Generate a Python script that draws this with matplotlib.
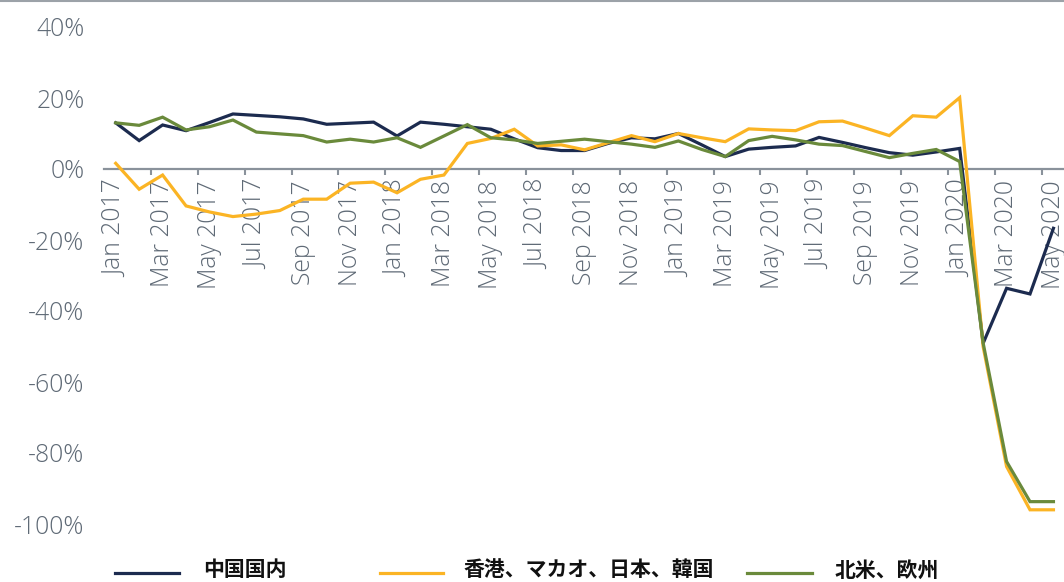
import matplotlib
matplotlib.use("Agg")
import matplotlib.pyplot as plt
from matplotlib.lines import Line2D
import numpy as np

months = ["Jan", "Feb", "Mar", "Apr", "May", "Jun", "Jul", "Aug", "Sep", "Oct", "Nov", "Dec"]
categories = [f"{months[m]} {y}" for y in (2017, 2018, 2019, 2020) for m in range(12)][:41]

china = [13.0, 8.0, 12.4, 10.8, 13.1, 15.5, 15.1, 14.7, 14.1, 12.6, 12.9, 13.2, 9.3, 13.2,
         12.6, 11.9, 11.2, 8.5, 6.0, 5.2, 5.2, 7.2, 8.8, 8.5, 10.0, 6.8, 3.5, 5.6, 6.1, 6.5,
         8.9, 7.5, 6.0, 4.6, 3.9, 4.8, 5.8, -49.1, -33.6, -35.2, -16.7]
hk_jp_kr = [1.6, -5.7, -1.7, -10.4, -12.1, -13.4, -12.7, -11.7, -8.5, -8.5, -4.0, -3.7, -6.7,
            -2.9, -1.7, 7.2, 8.6, 11.2, 6.5, 6.8, 5.4, 7.4, 9.4, 7.7, 10.0, 8.8, 7.7, 11.3,
            11.0, 10.8, 13.3, 13.5, 11.5, 9.4, 15.0, 14.6, 20.1, -50.0, -83.8, -96.0, -96.0]
na_eu = [13.0, 12.3, 14.6, 11.0, 11.9, 13.8, 10.4, 9.9, 9.4, 7.6, 8.4, 7.6, 8.8, 6.1, 9.3,
         12.5, 8.8, 8.2, 7.2, 7.8, 8.4, 7.7, 7.0, 6.1, 7.9, 5.5, 3.5, 8.0, 9.2, 8.2, 7.0, 6.6,
         4.9, 3.2, 4.4, 5.5, 2.1, -49.0, -82.4, -93.7, -93.7]

series_names = ["中国国内", "香港、マカオ、日本、韓国", "北米、欧州"]
colors = ["#1c2b4f", "#fbb424", "#6a8a3b"]
y_ticks = [-100, -80, -60, -40, -20, 0, 20, 40]

W, H = 1064, 582
fig = plt.figure(figsize=(W / 100, H / 100), dpi=100)
ax = fig.add_axes([104 / W, 1 - 524 / H, 1 - 104 / W, (524 - 27) / H])

x = np.arange(len(categories))
series = [china, hk_jp_kr, na_eu]
for vals, c in zip(series, colors):
    ax.plot(x, vals, color=c, lw=2.3, solid_joinstyle="miter", zorder=3)

ax.set_xlim(-0.5, 40.45)
ax.set_ylim(-100, 40)

for s in ["top", "right", "left"]:
    ax.spines[s].set_visible(False)
ax.spines["bottom"].set_position(("data", 0))
ax.spines["bottom"].set_color("#8a929b")
ax.spines["bottom"].set_linewidth(1.6)
ax.spines["bottom"].set_zorder(2)

tick_color = "#5f6a76"
ax.set_xticks(x[::2])
ax.set_xticklabels(categories[::2], rotation=90, fontsize=17.8, color=tick_color,
                   family=["Open Sans", "DejaVu Sans"], fontweight="light")
ax.tick_params(axis="x", which="major", length=0, pad=8)
ax.set_xticks(np.arange(1.5, 40, 2), minor=True)
ax.tick_params(axis="x", which="minor", length=4.5, width=1.5, color="#8a929b", direction="out")

ax.set_yticks(y_ticks)
ax.set_yticklabels([f"{v}%" for v in y_ticks], fontsize=17.8, color=tick_color,
                   family=["Open Sans", "DejaVu Sans"], fontweight="light")
ax.tick_params(axis="y", length=0, pad=14)

# top border line
fig.add_artist(Line2D([0, 1], [1 - 1 / H, 1 - 1 / H], transform=fig.transFigure,
                      color="#9ca2a8", lw=1.5))

# legend
line_y = 1 - 573 / H
text_y = 1 - 570 / H
line_spans = [(115, 179), (380, 443), (747, 812)]
text_x = [203, 463, 835]
for (x0, x1), tx, name, c in zip(line_spans, text_x, series_names, colors):
    fig.add_artist(Line2D([x0 / W, x1 / W], [line_y, line_y], transform=fig.transFigure,
                          color=c, lw=2.3))
    fig.text(tx / W, text_y, name, ha="left", va="center", fontsize=15,
             fontweight="bold", family=["Noto Sans CJK JP", "DejaVu Sans"], color="#111111")

fig.savefig("out.png", dpi=100)
